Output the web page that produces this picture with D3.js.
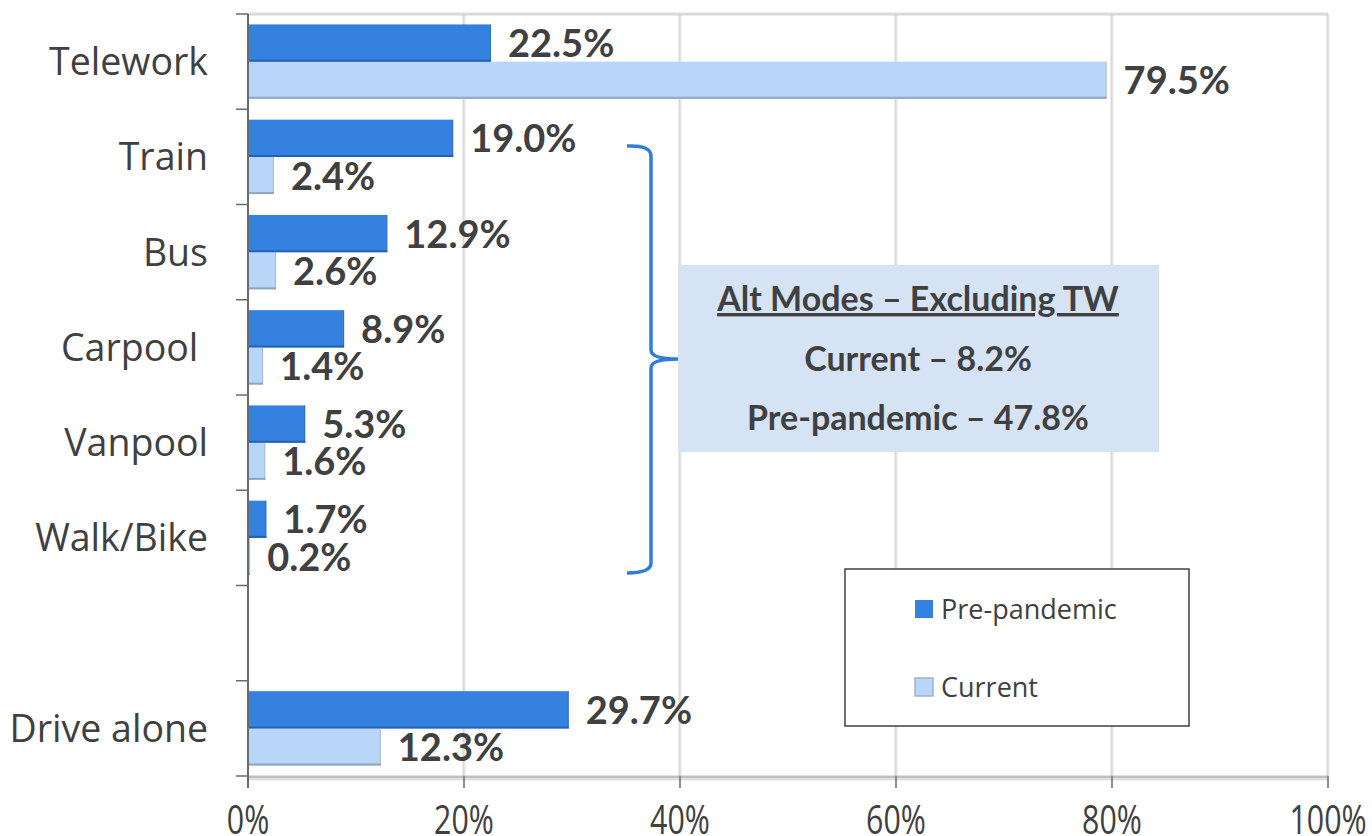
<!DOCTYPE html>
<html>
<head>
<meta charset="utf-8">
<script src="https://cdn.jsdelivr.net/npm/d3@7"></script>
<style>
  body { margin: 0; background: #fff; }
  svg { display: block; }
</style>
</head>
<body>
<script>
// chart data
var categories = ["Telework", "Train", "Bus", "Carpool ", "Vanpool", "Walk/Bike", "", "Drive alone"];
var seriesNames = ["Pre-pandemic", "Current"];
var prePandemic = [22.5, 19.0, 12.9, 8.9, 5.3, 1.7, null, 29.7];
var current = [79.5, 2.4, 2.6, 1.4, 1.6, 0.2, null, 12.3];
var xTicks = [0, 20, 40, 60, 80, 100];
var noteLines = ["Alt Modes \u2013 Excluding TW", "Current \u2013 8.2%", "Pre-pandemic \u2013 47.8%"];

window.onload = drawChart();

function drawChart(){

    var width = 1372,
        height = 836;
    var margin = {top: 14, right: 44, bottom: 60, left: 248};

    var colors = {"Pre-pandemic": "#3581df", "Current": "#b7d6f8"};
    var edges = {"Pre-pandemic": "#2461b4", "Current": "#8fa6be"};

    var svg = d3.select("body")
        .append("svg")
        .attr("width", width)
        .attr("height", height);

    var x = d3.scaleLinear()
        .domain([0, 100])
        .range([margin.left, width - margin.right]);

    //keys for bands (blank row needs a unique key)
    var keys = categories.map(function(c, i){ return i; });
    var y = d3.scaleBand()
        .domain(keys)
        .range([margin.top, height - margin.bottom]);

    var y1 = d3.scaleBand()
        .domain(seriesNames)
        .range([0, y.bandwidth()])
        .paddingOuter(0.28);

    //gridlines and frame
    var grid = svg.append("g");
    grid.selectAll(".grid")
        .data(xTicks.slice(1))
        .enter()
        .append("line")
        .attr("x1", function(d){ return x(d); })
        .attr("x2", function(d){ return x(d); })
        .attr("y1", margin.top)
        .attr("y2", height - margin.bottom)
        .attr("stroke", "#d9d9d9")
        .attr("stroke-width", 3);
    grid.selectAll(".grid2")
        .data(xTicks.slice(1))
        .enter()
        .append("line")
        .attr("x1", function(d){ return x(d) + 1; })
        .attr("x2", function(d){ return x(d) + 1; })
        .attr("y1", margin.top)
        .attr("y2", height - margin.bottom)
        .attr("stroke", "#f2f2f2")
        .attr("stroke-width", 1);
    grid.append("line")
        .attr("x1", x(0)).attr("x2", x(100))
        .attr("y1", margin.top).attr("y2", margin.top)
        .attr("stroke", "#d9d9d9").attr("stroke-width", 3);
    //floor
    grid.append("line")
        .attr("x1", x(0)).attr("x2", x(100))
        .attr("y1", height - margin.bottom + 1).attr("y2", height - margin.bottom + 1)
        .attr("stroke", "#bfbfbf").attr("stroke-width", 3);
    grid.append("line")
        .attr("x1", x(0)).attr("x2", x(100))
        .attr("y1", height - margin.bottom + 3.5).attr("y2", height - margin.bottom + 3.5)
        .attr("stroke", "#e0e0e0").attr("stroke-width", 2);

    //build rows
    var rows = [];
    categories.forEach(function(c, i){
        if (prePandemic[i] != null) rows.push({key: i, series: "Pre-pandemic", value: prePandemic[i]});
        if (current[i] != null) rows.push({key: i, series: "Current", value: current[i]});
    });

    var bars = svg.append("g");
    bars.selectAll(".bar")
        .data(rows)
        .enter()
        .append("rect")
        .attr("x", x(0))
        .attr("y", function(d){ return y(d.key) + y1(d.series); })
        .attr("width", function(d){ return x(d.value) - x(0); })
        .attr("height", y1.bandwidth())
        .attr("fill", function(d){ return colors[d.series]; });
    //darker bottom edge
    bars.selectAll(".edge")
        .data(rows)
        .enter()
        .append("line")
        .attr("x1", x(0))
        .attr("x2", function(d){ return x(d.value); })
        .attr("y1", function(d){ return y(d.key) + y1(d.series) + y1.bandwidth() - 1; })
        .attr("y2", function(d){ return y(d.key) + y1(d.series) + y1.bandwidth() - 1; })
        .attr("stroke", function(d){ return edges[d.series]; })
        .attr("stroke-width", 2);
    //right edge
    bars.selectAll(".redge")
        .data(rows)
        .enter()
        .append("line")
        .attr("x1", function(d){ return x(d.value) - 0.5; })
        .attr("x2", function(d){ return x(d.value) - 0.5; })
        .attr("y1", function(d){ return y(d.key) + y1(d.series); })
        .attr("y2", function(d){ return y(d.key) + y1(d.series) + y1.bandwidth(); })
        .attr("stroke", function(d){ return edges[d.series]; })
        .attr("stroke-opacity", 0.5)
        .attr("stroke-width", 1);

    //value labels
    svg.append("g").selectAll("text")
        .data(rows)
        .enter()
        .append("text")
        .attr("x", function(d){ return x(d.value) + 17; })
        .attr("y", function(d){ return y(d.key) + y1(d.series) + y1.bandwidth() / 2; })
        .attr("dy", "0.37em")
        .attr("font-family", "Lato, 'Open Sans', sans-serif")
        .attr("font-weight", "bold")
        .attr("font-size", 38)
        .attr("fill", "#404040")
        .text(function(d){ return d.value.toFixed(1) + "%"; });

    //left axis
    var axisG = svg.append("g");
    axisG.append("line")
        .attr("x1", x(0)).attr("x2", x(0))
        .attr("y1", margin.top).attr("y2", height - margin.bottom + 12)
        .attr("stroke", "#6b6b6b").attr("stroke-width", 2);
    var bounds = keys.map(function(k){ return y(k); }).concat([y.range()[1]]);
    axisG.selectAll(".ytick")
        .data(bounds)
        .enter()
        .append("line")
        .attr("x1", x(0) - 12).attr("x2", x(0))
        .attr("y1", function(d){ return d; })
        .attr("y2", function(d){ return d; })
        .attr("stroke", "#6b6b6b").attr("stroke-width", 1.5);
    axisG.selectAll(".ylab")
        .data(keys)
        .enter()
        .append("text")
        .attr("x", 208)
        .attr("y", function(d){ return y(d) + y.bandwidth() / 2; })
        .attr("dy", "0.36em")
        .attr("text-anchor", "end")
        .style("white-space", "pre")
        .attr("font-family", "'Open Sans', sans-serif")
        .attr("font-size", 37.5)
        .attr("fill", "#404040")
        .text(function(d){ return categories[d]; });

    //bottom axis ticks and labels
    axisG.selectAll(".xtick")
        .data(xTicks)
        .enter()
        .append("line")
        .attr("x1", function(d){ return x(d); })
        .attr("x2", function(d){ return x(d); })
        .attr("y1", height - margin.bottom)
        .attr("y2", height - margin.bottom + 12)
        .attr("stroke", "#6b6b6b").attr("stroke-width", 1.5);
    axisG.selectAll(".xlab")
        .data(xTicks)
        .enter()
        .append("text")
        .attr("transform", function(d){ return "translate(" + x(d) + "," + 834 + ") scale(0.74,1)"; })
        .attr("text-anchor", "middle")
        .attr("font-family", "'Open Sans', sans-serif")
        .attr("font-size", 41)
        .attr("fill", "#404040")
        .text(function(d){ return d + "%"; });

    //brace
    var brace = d3.path();
    brace.moveTo(627, 146);
    brace.quadraticCurveTo(651, 145, 651, 156);
    brace.lineTo(651, 350);
    brace.quadraticCurveTo(651, 359, 678, 359);
    brace.quadraticCurveTo(651, 359, 651, 368);
    brace.lineTo(651, 563);
    brace.quadraticCurveTo(651, 573, 627, 573);
    svg.append("path")
        .attr("d", brace.toString())
        .attr("fill", "none")
        .attr("stroke", "#2f7ed8")
        .attr("stroke-width", 3.5);

    //annotation box
    var note = svg.append("g");
    note.append("rect")
        .attr("x", 678).attr("y", 265)
        .attr("width", 481).attr("height", 187)
        .attr("fill", "#d5e3f5");
    note.selectAll("text")
        .data(noteLines)
        .enter()
        .append("text")
        .attr("x", 918)
        .attr("y", function(d, i){ return 311 + i * 59.5; })
        .attr("text-anchor", "middle")
        .attr("font-family", "Lato, 'Open Sans', sans-serif")
        .attr("font-weight", "bold")
        .attr("font-size", 34)
        .attr("fill", "#404040")
        .attr("text-decoration", function(d, i){ return i == 0 ? "underline" : null; })
        .text(function(d){ return d; });

    //legend
    var legend = svg.append("g");
    legend.append("rect")
        .attr("x", 845).attr("y", 569)
        .attr("width", 344).attr("height", 157)
        .attr("fill", "#fff")
        .attr("stroke", "#404040")
        .attr("stroke-width", 1.5);
    var items = legend.selectAll(".item")
        .data(seriesNames)
        .enter()
        .append("g")
        .attr("transform", function(d, i){ return "translate(915," + (600 + i * 78) + ")"; });
    items.append("rect")
        .attr("width", 18).attr("height", 18)
        .attr("fill", function(d){ return colors[d]; })
        .attr("stroke", function(d){ return d == "Current" ? "#a0b4c8" : "none"; })
        .attr("stroke-width", 1.5);
    items.append("text")
        .attr("x", 26)
        .attr("y", 9)
        .attr("dy", "0.36em")
        .attr("font-family", "'Open Sans', sans-serif")
        .attr("font-size", 27)
        .attr("fill", "#404040")
        .text(function(d){ return d; });
};
</script>
</body>
</html>
